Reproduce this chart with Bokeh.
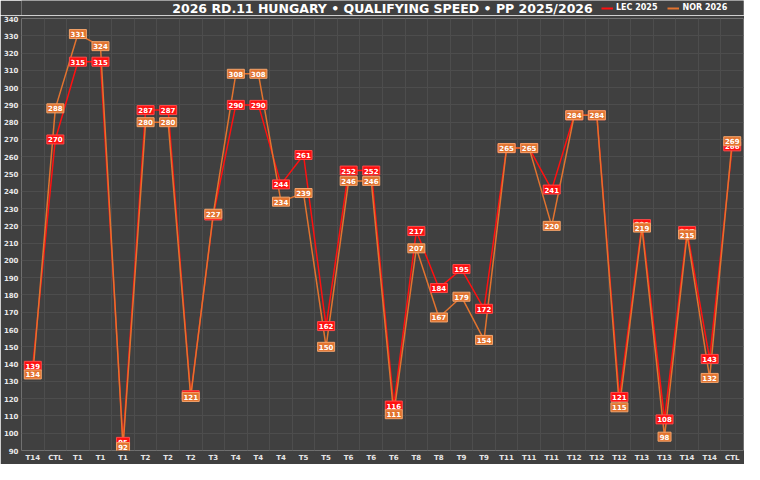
from bokeh.plotting import figure
from bokeh.layouts import column
from bokeh.models import FixedTicker, Legend, LegendItem, ColumnDataSource, Range1d
from bokeh.core.properties import value
from bokeh.embed import file_html
from bokeh.resources import INLINE

title_text = "2026 RD.11 HUNGARY • QUALIFYING SPEED • PP 2025/2026"
corners = ["T14", "CTL", "T1", "T1", "T1", "T2", "T2", "T2", "T3", "T4", "T4", "T4",
           "T5", "T5", "T6", "T6", "T6", "T8", "T8", "T9", "T9", "T11", "T11", "T11",
           "T12", "T12", "T12", "T13", "T13", "T14", "T14", "CTL"]
lec_2025 = [139, 270, 315, 315, 95, 287, 287, 122, 226, 290, 290, 244,
            261, 162, 252, 252, 116, 217, 184, 195, 172, 265, 265, 241,
            284, 284, 121, 221, 108, 217, 143, 266]
nor_2026 = [134, 288, 331, 324, 92, 280, 280, 121, 227, 308, 308, 234,
            239, 150, 246, 246, 111, 207, 167, 179, 154, 265, 265, 220,
            284, 284, 115, 219, 98, 215, 132, 269]
y_ticks = list(range(90, 341, 10))
series_names = ["LEC 2025", "NOR 2026"]

BG = "#404040"
GRID = "#4d4d4d"
RED = "#ff1010"
RED_EDGE = "#ff4a4a"
ORANGE = "#e2732f"
ORANGE_EDGE = "#f3a46c"
TXT = "#e8e8e8"
FONT = "DejaVu Sans"
NAN = float("nan")

n = len(corners)
xs = list(range(n))

W = 744
HH = 15          # header row (title + legend)
H = 464 - HH

# ---------- header: title and legend ----------
hdr = figure(width=W, height=HH, output_backend="svg", toolbar_location=None,
             x_range=Range1d(0, W), y_range=Range1d(0, HH),
             x_axis_location=None, y_axis_location=None, min_border=0,
             background_fill_color=BG, border_fill_color=BG,
             outline_line_color=None)
hdr.grid.visible = False
hdr.text(x=[W / 2], y=[HH / 2], text=[title_text], text_align="center",
         text_baseline="middle", text_color="#ffffff", text_font=value(FONT),
         text_font_size="12.5px", text_font_style="bold")
# legend keys only (no visible data)
k_lec = hdr.line(x=[NAN], y=[NAN], line_color=RED, line_width=2)
k_nor = hdr.line(x=[NAN], y=[NAN], line_color=ORANGE, line_width=2)
legend = Legend(items=[LegendItem(label=series_names[0], renderers=[k_lec]),
                       LegendItem(label=series_names[1], renderers=[k_nor])],
                orientation="horizontal", location=(W - 164, 3))
legend.background_fill_alpha = 0
legend.border_line_alpha = 0
legend.label_text_color = "#ffffff"
legend.label_text_font = FONT
legend.label_text_font_size = "8px"
legend.label_text_font_style = "bold"
legend.glyph_width = 12
legend.glyph_height = 8
legend.label_height = 8
legend.label_standoff = 3
legend.spacing = 10
legend.padding = 0
legend.margin = 0
hdr.add_layout(legend, "center")

# ---------- main chart ----------
p = figure(width=W, height=H, output_backend="svg", toolbar_location=None,
           x_range=Range1d(-0.5, n - 0.5), y_range=Range1d(90, 340),
           background_fill_color=BG, border_fill_color=BG,
           min_border_left=17, min_border_right=1, min_border_top=3,
           min_border_bottom=12, outline_line_color=None)

p.xgrid.ticker = FixedTicker(ticks=[i - 0.5 for i in range(n + 1)])
p.ygrid.ticker = FixedTicker(ticks=y_ticks)
p.xgrid.grid_line_color = GRID
p.ygrid.grid_line_color = GRID

p.xaxis.ticker = FixedTicker(ticks=xs)
p.xaxis.major_label_overrides = {i: c for i, c in enumerate(corners)}
p.yaxis.ticker = FixedTicker(ticks=y_ticks)
for ax in (p.xaxis[0], p.yaxis[0]):
    ax.axis_line_color = None
    ax.major_tick_line_color = None
    ax.minor_tick_line_color = None
    ax.major_tick_out = 0
    ax.major_tick_in = 0
    ax.minor_tick_out = 0
    ax.minor_tick_in = 0
    ax.major_label_text_color = TXT
    ax.major_label_text_font = FONT
    ax.major_label_text_font_size = "7px"
    ax.major_label_text_font_style = "bold"
    ax.major_label_standoff = 3

p.line(xs, lec_2025, line_color=RED, line_width=1.5)
p.line(xs, nor_2026, line_color=ORANGE, line_width=1.5)

def add_labels(vals, fill, edge):
    src = ColumnDataSource(dict(
        x=xs, y=vals, txt=[str(v) for v in vals],
        w=[4 * len(str(v)) + 5 for v in vals]))
    p.rect(x="x", y="y", width="w", height=9, width_units="screen",
           height_units="screen", fill_color=fill, line_color=edge,
           line_width=1, source=src)
    p.text(x="x", y="y", text="txt", source=src, text_align="center",
           text_baseline="middle", text_color="#ffffff",
           text_font=value(FONT), text_font_size="7px",
           text_font_style="bold")

add_labels(lec_2025, RED, RED_EDGE)
add_labels(nor_2026, ORANGE, ORANGE_EDGE)

layout = column(hdr, p, spacing=0)
open("out.html", "w").write(file_html(layout, INLINE))
